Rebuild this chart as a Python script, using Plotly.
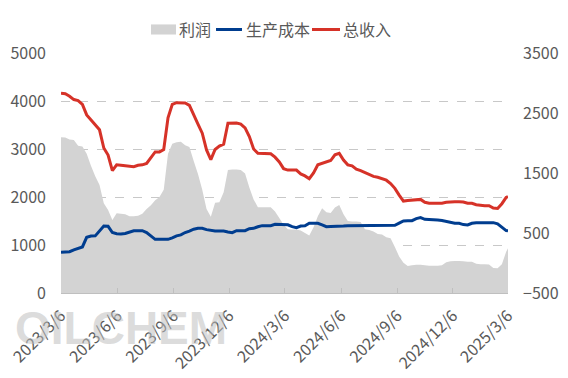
import pandas as pd
import plotly.graph_objects as go

# weekly observations starting 2023-03-06, plus final point 2025-03-06
dates = list(pd.date_range("2023-03-06", periods=105, freq="7D").strftime("%Y-%m-%d")) + ["2025-03-06"]

revenue = [
    4160, 4150, 4100, 4030, 4010, 3930, 3710, 3600, 3500, 3400,
    3020, 2875, 2550, 2670, 2660, 2650, 2630, 2630, 2660, 2670,
    2700, 2810, 2940, 2940, 2990, 3650, 3930, 3965, 3970, 3960,
    3910, 3700, 3520, 3330, 2980, 2780, 2990, 3060, 3100, 3535,
    3540, 3540, 3520, 3440, 3260, 3000, 2910, 2910, 2910, 2900,
    2830, 2730, 2590, 2560, 2560, 2560, 2480, 2440, 2380, 2500,
    2670, 2700, 2740, 2760, 2880, 2910, 2770, 2670, 2650, 2580,
    2550, 2510, 2470, 2430, 2410, 2380, 2350, 2280, 2180, 2040,
    1915, 1925, 1930, 1950, 1950, 1890, 1870, 1870, 1870, 1870,
    1890, 1900, 1900, 1900, 1895, 1870, 1870, 1840, 1825, 1820,
    1820, 1770, 1760, 1860, 1990, 2010,
]

cost = [
    848, 848, 860, 900, 927, 960, 1160, 1187, 1190, 1300,
    1395, 1390, 1260, 1235, 1229, 1240, 1277, 1298, 1298, 1298,
    1260, 1180, 1118, 1118, 1118, 1118, 1150, 1190, 1210, 1260,
    1290, 1330, 1347, 1347, 1320, 1300, 1290, 1290, 1290, 1270,
    1256, 1298, 1298, 1298, 1340, 1347, 1380, 1403, 1403, 1403,
    1430, 1430, 1430, 1420, 1382, 1360, 1395, 1400, 1452, 1452,
    1452, 1420, 1382, 1385, 1385, 1390, 1395, 1403, 1403, 1403,
    1403, 1395, 1395, 1395, 1395, 1395, 1395, 1395, 1410, 1455,
    1500, 1507, 1507, 1550, 1570, 1535, 1535, 1530, 1520, 1510,
    1486, 1470, 1452, 1452, 1425, 1417, 1452, 1465, 1465, 1465,
    1465, 1465, 1440, 1360, 1300, 1295,
]

profit = [
    3243, 3240, 3200, 3190, 3070, 3050, 2900, 2650, 2430, 2250,
    1870, 1730, 1520, 1660, 1650, 1640, 1600, 1600, 1610, 1650,
    1750, 1830, 1930, 2000, 2150, 2900, 3110, 3140, 3150, 3080,
    3040, 2750, 2480, 2150, 1750, 1590, 1880, 1890, 2100, 2560,
    2575, 2575, 2560, 2490, 2200, 1950, 1785, 1785, 1785, 1785,
    1700, 1560, 1420, 1330, 1323, 1323, 1300, 1250, 1200, 1370,
    1600, 1765, 1680, 1667, 1780, 1833, 1640, 1500, 1490, 1490,
    1480, 1330, 1310, 1280, 1230, 1220, 1160, 1140, 960, 760,
    630, 562, 580, 590, 590, 580, 570, 570, 570, 580,
    640, 660, 665, 665, 660, 650, 650, 610, 600, 600,
    595, 520, 514, 600, 860, 930,
]

tick_dates = ["2023-03-06", "2023-06-06", "2023-09-06", "2023-12-06", "2024-03-06",
              "2024-06-06", "2024-09-06", "2024-12-06", "2025-03-06"]
tick_labels = ["2023/3/6", "2023/6/6", "2023/9/6", "2023/12/6", "2024/3/6",
               "2024/6/6", "2024/9/6", "2024/12/6", "2025/3/6"]
right_ticks = [-500, 500, 1500, 2500, 3500]

FONT = "Noto Sans CJK SC"
TXT = "#595959"
C_PROFIT = "#d3d3d3"
C_COST = "#003d8f"
C_REV = "#d63228"

fig = go.Figure()
fig.add_trace(go.Scatter(x=dates, y=profit, name="利润", mode="none",
                         fill="tozeroy", fillcolor=C_PROFIT, hoverinfo="skip"))
fig.add_trace(go.Scatter(x=dates, y=cost, name="生产成本", mode="lines",
                         line=dict(color=C_COST, width=3)))
fig.add_trace(go.Scatter(x=dates, y=revenue, name="总收入", mode="lines",
                         line=dict(color=C_REV, width=3)))
# carrier for the secondary axis
fig.add_trace(go.Scatter(x=[dates[0]], y=[right_ticks[0]], yaxis="y2", mode="markers",
                         marker=dict(opacity=0), showlegend=False, hoverinfo="skip"))

fig.update_layout(
    width=568, height=378,
    margin=dict(l=61, r=60, t=53, b=85),
    paper_bgcolor="white", plot_bgcolor="white",
    font=dict(family=FONT, size=16, color=TXT),
    showlegend=False,
    xaxis=dict(type="date", range=["2023-03-06", "2025-03-06"], automargin=False,
               tickvals=tick_dates, ticktext=tick_labels, tickangle=-45,
               ticklabeloverflow="allow", ticklabelstandoff=6,
               showgrid=False, zeroline=False, showline=True, linecolor="#bfbfbf",
               ticks="inside", ticklen=5, tickcolor="#bfbfbf",
               tickfont=dict(size=16, color=TXT)),
    yaxis=dict(range=[0, 5000], dtick=1000, showgrid=True, gridcolor="#c8c8c8",
               griddash="dash", gridwidth=1, zeroline=False, showline=False,
               automargin=False,
               ticks="", ticklabelstandoff=14, tickfont=dict(size=16, color=TXT)),
    yaxis2=dict(range=[-500, 3500], tickvals=right_ticks, overlaying="y", side="right",
                showgrid=False, zeroline=False, showline=False, ticks="",
                automargin=False,
                ticklabelstandoff=14, tickfont=dict(size=16, color=TXT)),
)

# legend (compact, Excel-like), placed in paper coordinates above the plot
ly = 1.098
fig.add_shape(type="rect", xref="paper", yref="paper", x0=0.2013, x1=0.2573,
              y0=1.077, y1=1.119, fillcolor=C_PROFIT, line=dict(width=0))
fig.add_shape(type="line", xref="paper", yref="paper", x0=0.3468, x1=0.4049,
              y0=ly, y1=ly, line=dict(color=C_COST, width=3))
fig.add_shape(type="line", xref="paper", yref="paper", x0=0.5615, x1=0.6242,
              y0=ly, y1=ly, line=dict(color=C_REV, width=3))
for name, xpos in [("利润", 0.2595), ("生产成本", 0.4094), ("总收入", 0.6264)]:
    fig.add_annotation(text=name, xref="paper", yref="paper", x=xpos, y=ly,
                       xanchor="left", yanchor="middle", showarrow=False,
                       font=dict(family=FONT, size=16, color=TXT))

fig.add_annotation(text="<b>OILCHEM</b>", xref="paper", yref="paper",
                   x=0.134, y=-0.146, xanchor="center", yanchor="middle",
                   showarrow=False,
                   font=dict(family="Liberation Sans", size=46, color="rgba(190,190,190,0.55)"))

fig.write_html("out.html", config={"displayModeBar": False},
               post_script="document.body.style.margin='0px';document.body.style.overflow='hidden';")
